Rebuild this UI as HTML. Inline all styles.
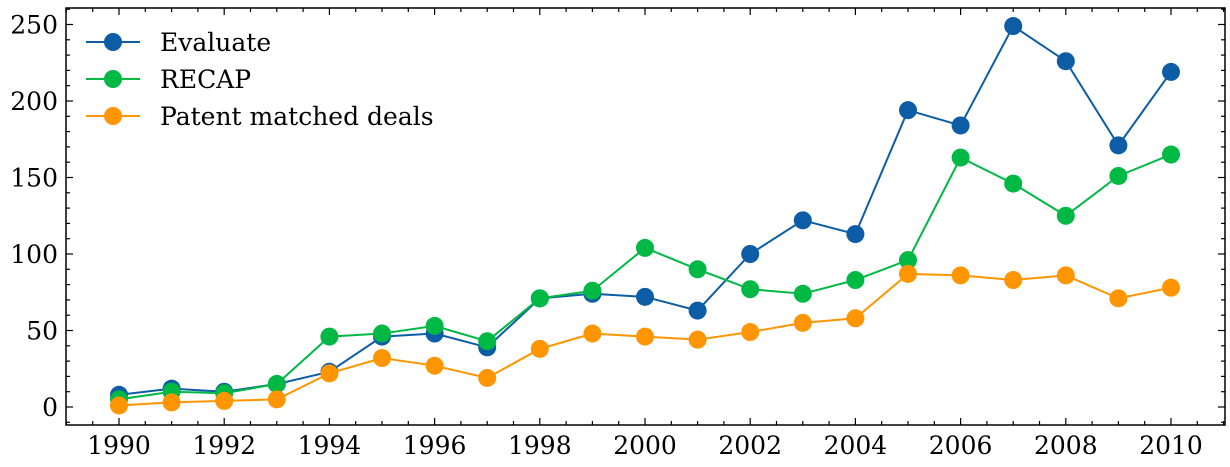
<!DOCTYPE html>
<html><head><meta charset="utf-8"><style>
body{margin:0;background:#fff}
svg text{font-family:"DejaVu Serif","Liberation Serif",serif;font-size:25px;fill:#000}
</style></head><body>
<svg id="chart" width="1230" height="462"></svg>
<script>
const years=[1990,1991,1992,1993,1994,1995,1996,1997,1998,1999,2000,2001,2002,2003,2004,2005,2006,2007,2008,2009,2010];
const evaluate=[8,12,10,15,23,46,48,39,71,74,72,63,100,122,113,194,184,249,226,171,219];
const recap=[5,10,9,15,46,48,53,43,71,76,104,90,77,74,83,96,163,146,125,151,165];
const patent=[1,3,4,5,22,32,27,19,38,48,46,44,49,55,58,87,86,83,86,71,78];
const xTicks=[1990,1992,1994,1996,1998,2000,2002,2004,2006,2008,2010];
const yTicks=[0,50,100,150,200,250];
const seriesNames=["Evaluate","RECAP","Patent matched deals"];
const colors=["#0C5DA5","#00B945","#FF9500"];

const L=66,R=1225,T=8,B=425;
const x=v=>119+(v-1990)*(1171-119)/20;
const y=v=>407-v*1.53;
const svg=document.getElementById('chart');
const NS="http://www.w3.org/2000/svg";
function mk(tag,a,parent){const e=document.createElementNS(NS,tag);for(const k in a)e.setAttribute(k,a[k]);(parent||svg).appendChild(e);return e;}

const tg=mk('g',{stroke:'#000','stroke-width':1.2});


for(let v=1989;v<=2012.5;v+=0.5){const px=x(v);if(px<=L||px>=R)continue;const major=xTicks.includes(v);const len=major?7:4;
 mk('line',{x1:px,x2:px,y1:B,y2:B-len},tg);mk('line',{x1:px,x2:px,y1:T,y2:T+len},tg);}
for(let v=-10;v<=270;v+=10){const py=y(v);if(py<=T||py>=B)continue;const major=v%50===0;const len=major?7:4;
 mk('line',{x1:L,x2:L+len,y1:py,y2:py},tg);mk('line',{x1:R,x2:R-len,y1:py,y2:py},tg);}
xTicks.forEach(v=>{const t=mk('text',{x:x(v),y:B+29,'text-anchor':'middle'});t.textContent=v;
 });
yTicks.forEach(v=>{const t=mk('text',{x:L-8,y:y(v)+9,'text-anchor':'end'});t.textContent=v;
 });

[evaluate,recap,patent].forEach((d,i)=>{
 const g=mk('g',{});
 
 
 mk('polyline',{points:d.map((v,j)=>x(years[j])+','+y(v)).join(' '),fill:'none',stroke:colors[i],'stroke-width':2},g);
 d.forEach((v,j)=>{const c=mk('circle',{cx:x(years[j]),cy:y(v),r:9,fill:colors[i]},g);
  });
});

const f=mk('rect',{x:L,y:T,width:R-L,height:B-T,fill:'none',stroke:'#000','stroke-width':1.5});



seriesNames.forEach((n,i)=>{
 const g=mk('g',{});
 
 
 const ly=42+i*37;
 mk('line',{x1:86,x2:140,y1:ly,y2:ly,stroke:colors[i],'stroke-width':2},g);
 mk('circle',{cx:113,cy:ly,r:9,fill:colors[i]},g);
 const t=mk('text',{x:160,y:ly+9},g);t.textContent=n;
});
</script>
</body></html>
